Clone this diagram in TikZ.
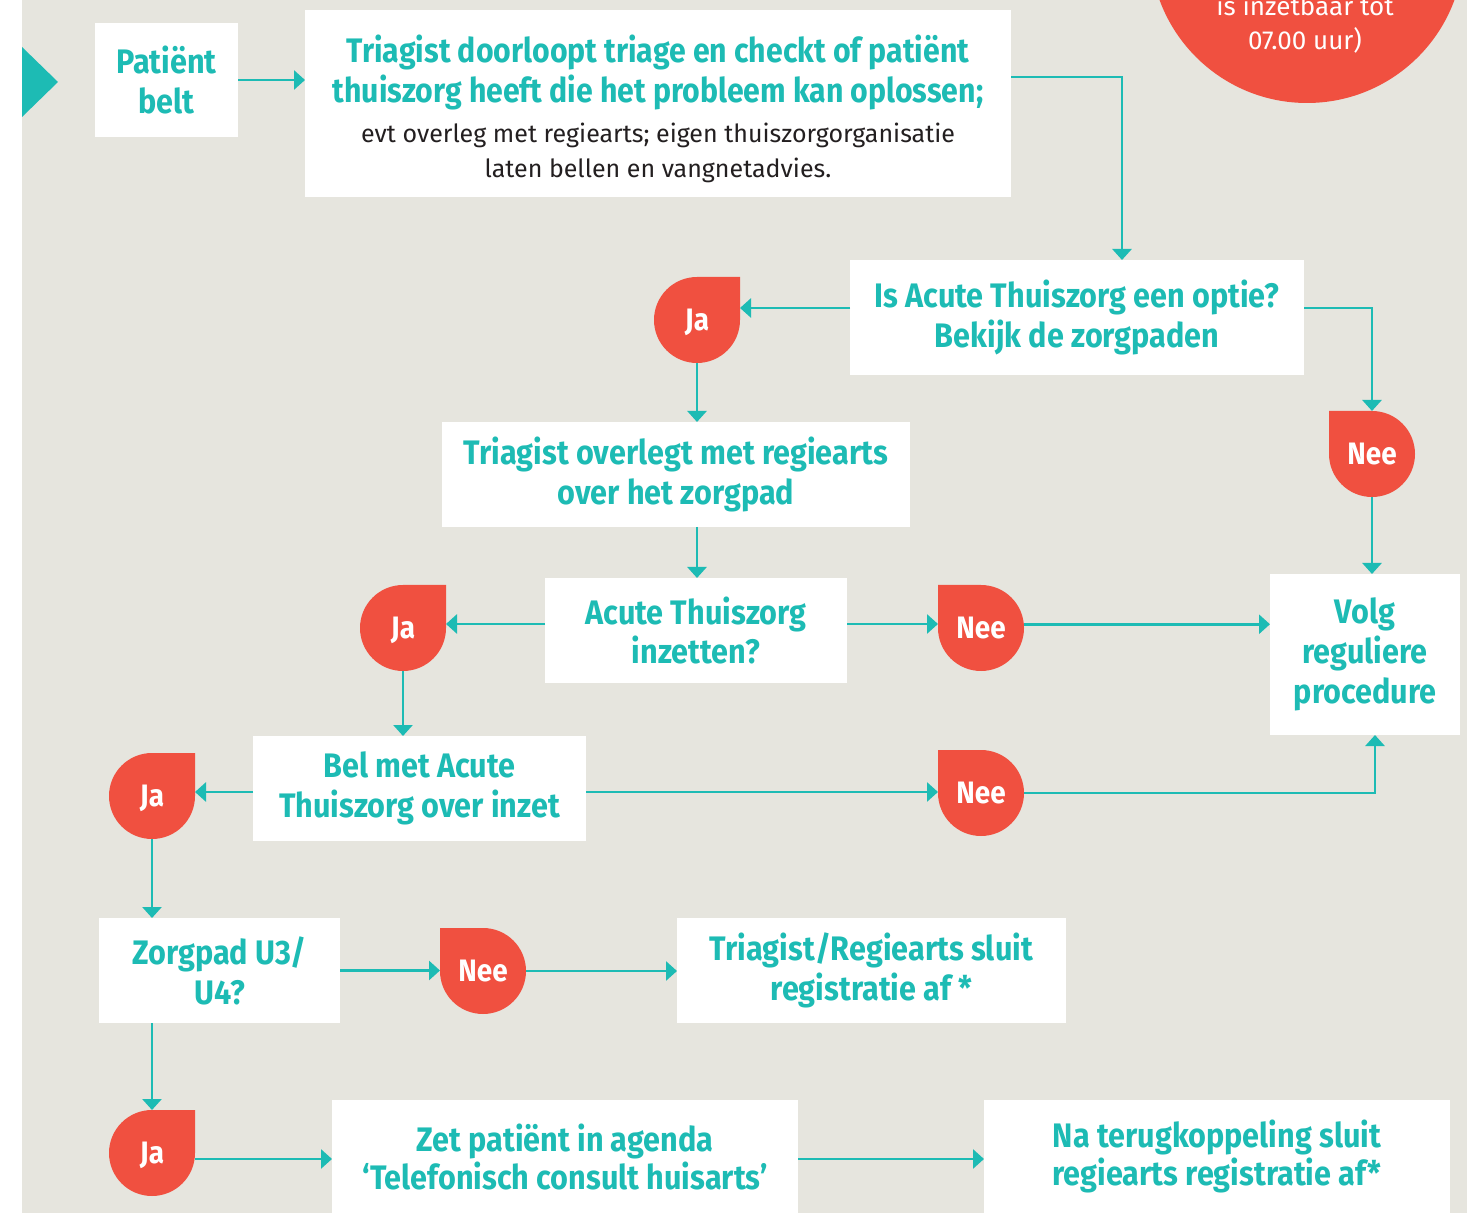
\documentclass[tikz,border=0pt]{standalone}
\usepackage{fontspec}
\setmainfont{Fira Sans}
\newfontfamily\boxfam{Fira Sans}[FakeStretch=0.9]
\newfontfamily\headfam{Fira Sans}[FakeStretch=0.89]
\usetikzlibrary{arrows.meta}
\definecolor{tealc}{HTML}{1DBBB4}
\definecolor{redc}{HTML}{F05040}
\definecolor{bgc}{HTML}{E6E5DE}
\definecolor{darkc}{HTML}{231F20}
\newcommand\jadrop[3]{%
  \fill[redc] (#2+43,#3-43) -- (#2+43,#3) arc[start angle=0,end angle=270,radius=43] -- cycle;
  \node[dropnode] (#1) at (#2,#3) {Ja};}
\newcommand\needrop[3]{%
  \fill[redc] (#2-43,#3-43) -- (#2-43,#3) arc[start angle=180,end angle=-90,radius=43] -- cycle;
  \node[dropnode] (#1) at (#2,#3) {Nee};}
\begin{document}
\begin{tikzpicture}[x=0.5pt,y=-0.5pt,
  box/.style={fill=white,inner sep=0pt,outer sep=0pt,align=center,text=tealc,font=\boxfam\bfseries\fontsize{17}{20}\selectfont},
  dropnode/.style={circle,minimum size=43pt,inner sep=0pt,outer sep=0pt,text=white,font=\boxfam\bfseries\fontsize{15.5}{15.5}\selectfont,text depth=-3pt},
  arr/.style={draw=tealc,line width=1.4pt,-{Triangle[width=9.5pt,length=5.5pt]}}]
\useasboundingbox (0,0) rectangle (1467,1213);
\clip (0,0) rectangle (1467,1213);
\fill[white] (0,0) rectangle (1467,1213);
\fill[bgc] (22,0) rectangle (1467,1213);
\fill[tealc] (22,47) -- (58,82) -- (22,117) -- cycle;
% note circle
\fill[redc] (1307,-54) circle[radius=157];
\node[text=white,font=\fontsize{13}{17}\selectfont,align=center,inner sep=0pt] (note) at (1305,24) {is inzetbaar tot\\07.00 uur)};
% boxes
\node[box,minimum width=71.5pt,minimum height=57pt] (p1) at (166.5,80) {Patiënt\\belt};
\node[box,minimum width=353pt,minimum height=93.5pt] (b2) at (658,103.5) {};
\node[text=tealc,font=\headfam\bfseries\fontsize{17}{20}\selectfont,align=center,inner sep=0pt] (b2t) at (658,72) {Triagist doorloopt triage en checkt of patiënt\\thuiszorg heeft die het probleem kan oplossen;};
\node[text=darkc,font=\fontsize{12.5}{17.5}\selectfont,align=center,inner sep=0pt] (b2s) at (658,153) {evt overleg met regiearts; eigen thuiszorgorganisatie\\laten bellen en vangnetadvies.};
\node[box,minimum width=227pt,minimum height=57.5pt] (b3) at (1077,317.5) {Is Acute Thuiszorg een optie?\\Bekijk de zorgpaden};
\node[box,minimum width=234pt,minimum height=52.5pt] (b4) at (676,474.5) {Triagist overlegt met regiearts\\over het zorgpad};
\node[box,minimum width=151pt,minimum height=52.5pt] (b5) at (696,630.5) {Acute Thuiszorg\\[-0.5pt]inzetten?};
\node[box,minimum width=95pt,minimum height=80.5pt] (volg) at (1365,654.5) {Volg\\reguliere\\procedure};
\node[box,minimum width=166.5pt,minimum height=52.5pt] (b7) at (419.5,788.5) {Bel met Acute\\Thuiszorg over inzet};
\node[box,minimum width=120.5pt,minimum height=52.5pt] (b8) at (219.5,970.5) {Zorgpad U3/\\U4?};
\node[box,minimum width=194.5pt,minimum height=52.5pt] (b9) at (871.5,970.5) {Triagist/Regiearts sluit\\registratie af *};
\node[box,minimum width=233pt,minimum height=56.5pt] (b10) at (565,1156.5) {Zet patiënt in agenda\\[-1pt]‘Telefonisch consult huisarts’};
\node[box,minimum width=233pt,minimum height=56.5pt] (b11) at (1217,1156.5) {Na terugkoppeling sluit\\[-1pt]regiearts registratie af*};
% drops
\jadrop{ja1}{697}{320}
\needrop{nee1}{1372}{454}
\jadrop{ja2}{403}{628}
\needrop{nee2}{981}{628}
\jadrop{ja3}{152}{796}
\needrop{nee3}{981}{793}
\needrop{nee4}{483}{971}
\jadrop{ja4}{152}{1153}
% connectors
\draw[arr] (p1.east) -- (p1.east -| b2.west);
\draw[arr] ([yshift=13.25pt]b2.east) -| ([xshift=22.5pt]b3.north);
\draw[arr] ([yshift=4.75pt]b3.west) -- ([yshift=4.75pt]b3.west -| ja1.east);
\draw[arr] ([yshift=4.75pt]b3.east) -| (nee1.north);
\draw[arr] (ja1.south) -- (ja1.south |- b4.north);
\draw[arr] (b4.south -| ja1.south) -- (b5.north -| ja1.south);
\draw[arr] ([yshift=3.25pt]b5.west) -- ([yshift=3.25pt]b5.west -| ja2.east);
\draw[arr] ([yshift=3.25pt]b5.east) -- ([yshift=3.25pt]b5.east -| nee2.west);
\draw[arr] (nee2.5) -- (nee2.5 -| volg.west);
\draw[arr] (nee1.south) -- (nee1.south |- volg.north);
\draw[arr] (ja2.south) -- (ja2.south |- b7.north);
\draw[arr] ([yshift=-1.75pt]b7.west) -- ([yshift=-1.75pt]b7.west -| ja3.east);
\draw[arr] ([yshift=-1.75pt]b7.east) -- ([yshift=-1.75pt]b7.east -| nee3.west);
\draw[arr] (nee3.east) -| ([xshift=5pt]volg.south);
\draw[arr] (ja3.south) -- (ja3.south |- b8.north);
\draw[arr] (b8.east) -- (b8.east -| nee4.west);
\draw[arr] (nee4.east) -- (nee4.east -| b9.west);
\draw[arr] (b8.south -| ja3.south) -- (ja4.north);
\draw[arr] (ja4.-8) -- (ja4.-8 -| b10.west);
\draw[arr] ([yshift=-1.25pt]b10.east) -- ([yshift=-1.25pt]b10.east -| b11.west);
\end{tikzpicture}
\end{document}
